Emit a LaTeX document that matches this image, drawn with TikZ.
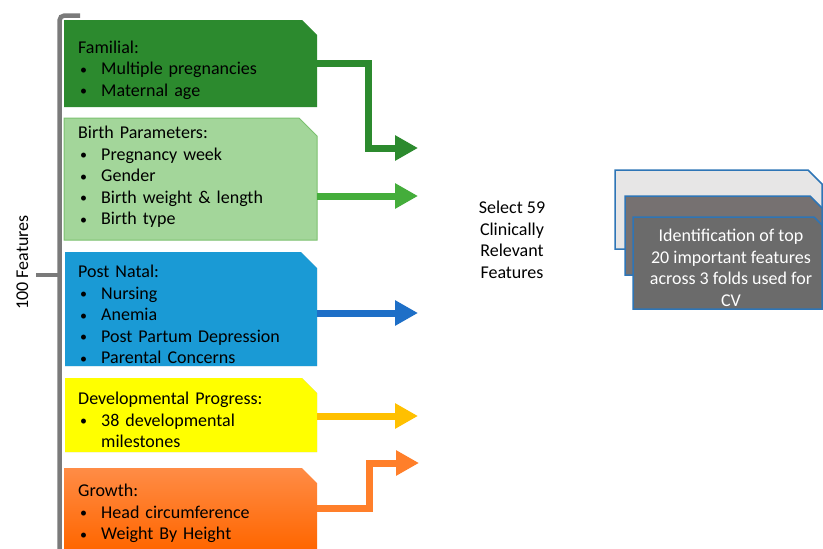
\documentclass[tikz,border=0pt]{standalone}
\usepackage{fontspec}
\setmainfont{Carlito}
\usetikzlibrary{arrows.meta}
\definecolor{famgreen}{HTML}{2C8A2E}
\definecolor{birthfill}{HTML}{A3D69A}
\definecolor{birthdraw}{HTML}{7CC16F}
\definecolor{birtharrow}{HTML}{44AD3B}
\definecolor{postfill}{HTML}{1A9AD5}
\definecolor{postarrow}{HTML}{1E6FC7}
\definecolor{devfill}{HTML}{FFFF00}
\definecolor{devarrow}{HTML}{FFC000}
\definecolor{growtop}{HTML}{FF8C46}
\definecolor{growbot}{HTML}{FF6600}
\definecolor{growarrow}{HTML}{FF7F2A}
\definecolor{brackgray}{HTML}{7A7A7A}
\definecolor{stackborder}{HTML}{2E75B6}
\definecolor{stackback}{HTML}{E7E6E6}
\definecolor{stackmid}{HTML}{767171}
\definecolor{stackfront}{HTML}{6B6B6B}
\newcommand\chamf[3]{\path[#1] (#2.south west) -- (#2.north west) -- ([xshift=-#3pt]#2.north east) -- ([yshift=-#3pt]#2.north east) -- (#2.south east) -- cycle;}
\newcommand\bl{\makebox[23pt][l]{\hspace{2pt}\raisebox{0.6pt}{\fontsize{14}{14}\selectfont •}}}
\begin{document}
\begin{tikzpicture}[x=1pt,y=-1pt,
  bx/.style={rectangle, inner sep=0pt, outer sep=0pt, anchor=north west},
  txt/.style={inner sep=0pt, anchor=base west, text width=240pt, align=left, font=\fontsize{18}{21.6}\selectfont},
  lbl/.style={inner sep=0pt, font=\fontsize{18}{21.6}\selectfont},
  arr/.style={line width=7pt, -{Triangle[length=23pt,width=24pt]}},
  bracket/.style={draw=brackgray, line width=4.5pt}]
\useasboundingbox[fill=white] (0,0) rectangle (823,549);

% bracket
\draw[bracket, rounded corners=5pt] (59.5,549) -- (59.5,15.5) -- (80,15.5);
\draw[bracket] (36,275) -- (59.5,275);
\node[lbl, rotate=90, anchor=base west] (feat) at (28,310) {100 Features};

% box frames
\node[bx, minimum width=253pt, minimum height=87pt] (famb) at (64,20) {};
\node[bx, minimum width=253pt, minimum height=122pt] (birthb) at (64,118) {};
\node[bx, minimum width=252pt, minimum height=114pt] (postb) at (65,252) {};
\node[bx, minimum width=252pt, minimum height=74pt] (devb) at (65,378) {};
\node[bx, minimum width=253pt, minimum height=81pt] (growb) at (64,468) {};

% shadows
\chamf{fill=black, opacity=0.18, xshift=2pt, yshift=-4pt}{postb}{16}
\chamf{fill=black, opacity=0.25, xshift=2pt, yshift=-5pt}{devb}{15}

% fills
\chamf{fill=famgreen}{famb}{15}
\chamf{fill=birthfill, draw=birthdraw, line width=1pt}{birthb}{18}
\chamf{fill=postfill}{postb}{16}
\chamf{fill=devfill}{devb}{15}
\chamf{top color=growtop, bottom color=growbot}{growb}{15}

% texts
\node[txt] (famt) at (78,53) {Familial:\\\bl Multiple pregnancies\\\bl Maternal age};
\node[txt] (birtht) at (78,138.5) {Birth Parameters:\\\bl Pregnancy week\\\bl Gender\\\bl Birth weight \& length\\\bl Birth type};
\node[txt] (postt) at (78,277.5) {Post Natal:\\\bl Nursing\\\bl Anemia\\\bl Post Partum Depression\\\bl Parental Concerns};
\node[txt] (devt) at (78,404.5) {Developmental Progress:\\\bl 38 developmental\\\hspace*{23pt}milestones};
\node[txt] (growt) at (78,496.5) {Growth:\\\bl Head circumference\\\bl Weight By Height};

% arrow tips
\coordinate (famtip) at (418,148);
\coordinate (birthtip) at (418,196);
\coordinate (posttip) at (418,313);
\coordinate (devtip) at (418,416);
\coordinate (growtip) at (419,463);

\draw[arr, famgreen] (famb.east) -- ++(51,0) |- (famtip);
\draw[arr, birtharrow] (birthb.east |- birthtip) -- (birthtip);
\draw[arr, postarrow] (postb.east |- posttip) -- (posttip);
\draw[arr, devarrow] (devb.east |- devtip) -- (devtip);
\draw[arr, growarrow] (growb.east) -- ++(52,0) |- (growtip);

% select
\node[lbl, align=center] (sel) at (512,240) {Select 59\\Clinically\\Relevant\\Features};

% stack
\node[bx, minimum width=207pt, minimum height=79pt] (stk1) at (615,170) {};
\node[bx, minimum width=197pt, minimum height=79pt] (stk2) at (625,196) {};
\node[bx, minimum width=189pt, minimum height=92pt] (stk3) at (633,217) {};
\chamf{fill=stackback, draw=stackborder, line width=1.5pt}{stk1}{14}
\chamf{fill=stackmid, draw=stackborder, line width=1.5pt}{stk2}{12}
\chamf{fill=stackfront, draw=stackborder, line width=1.5pt}{stk3}{8}
\node[lbl, align=center, text=white] (stkt) at (731,268) {Identification of top\\20 important features\\across 3 folds used for\\CV};
\end{tikzpicture}
\end{document}
